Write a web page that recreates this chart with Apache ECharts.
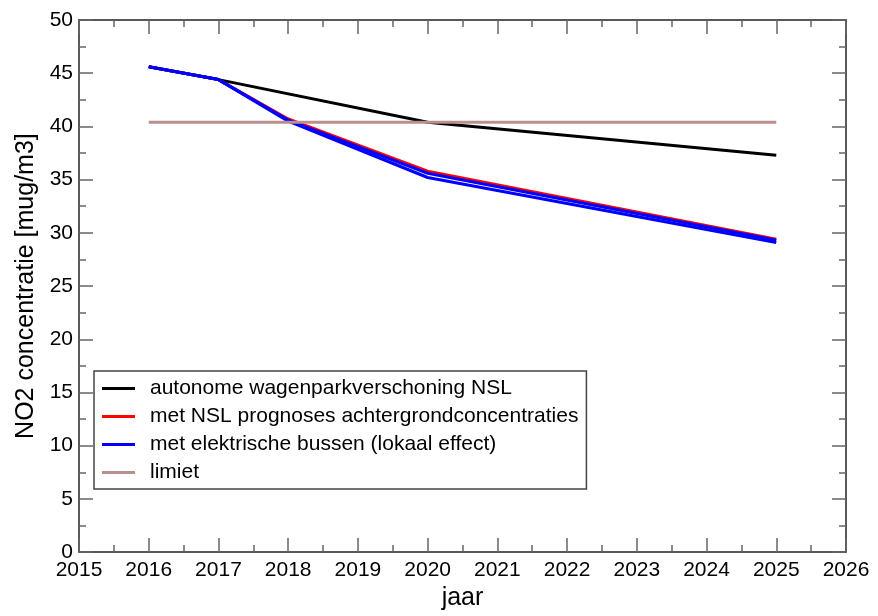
<!DOCTYPE html>
<html>
<head>
<meta charset="utf-8">
<script src="https://cdn.jsdelivr.net/npm/echarts@6/dist/echarts.min.js"></script>
<style>html,body{margin:0;padding:0;background:#fff}#c{width:878px;height:616px}</style>
</head>
<body>
<div id="c"></div>
<script>
const yearsBlack = [2016, 2017, 2020, 2025];
const valsBlack = [45.6, 44.4, 40.4, 37.3];
const yearsScen = [2016, 2017, 2018, 2020, 2025];
const valsRed = [45.6, 44.4, 40.7, 35.8, 29.4];
const valsBlueA = [45.6, 44.4, 40.6, 35.6, 29.3];
const valsBlueB = [45.6, 44.4, 40.5, 35.2, 29.1];
const yearsLimit = [2016, 2025];
const valsLimit = [40.4, 40.4];
const names = ['autonome wagenparkverschoning NSL', 'met NSL prognoses achtergrondconcentraties', 'met elektrische bussen (lokaal effect)', 'limiet'];

const pair = (xs, ys) => xs.map((x, i) => [x, ys[i]]);
const FONT = 'Liberation Sans';
const axisCommon = {
  type: 'value', splitLine: {show: false},
  axisLine: {show: true, onZero: false, lineStyle: {color: '#222', width: 1.5}},
  axisTick: {show: true, inside: true, length: 14, lineStyle: {color: '#666', width: 1.5}},
  minorTick: {show: true, splitNumber: 2, length: 7, lineStyle: {color: '#666', width: 1.5}},
  minorSplitLine: {show: false}
};
const chart = echarts.init(document.getElementById('c'), null, {renderer: 'canvas'});
const mk = (name, data, color) => ({
  type: 'line', name, data, symbol: 'none', showSymbol: false,
  lineStyle: {color, width: 3}, itemStyle: {color}, animation: false
});
chart.setOption({
  animation: false,
  textStyle: {fontFamily: FONT},
  grid: {left: 79, right: 32, top: 20, bottom: 61},
  xAxis: [
    Object.assign({}, axisCommon, {min: 2015, max: 2026, interval: 1, position: 'bottom',
      axisLabel: {color: '#000', fontSize: 21, fontFamily: FONT, margin: 8, formatter: v => String(v)},
      name: 'jaar', nameLocation: 'middle', nameGap: 31,
      nameTextStyle: {color: '#000', fontSize: 25, fontFamily: FONT}}),
    Object.assign({}, axisCommon, {min: 2015, max: 2026, interval: 1, position: 'top',
      axisLabel: {show: false}})
  ],
  yAxis: [
    Object.assign({}, axisCommon, {min: 0, max: 50, interval: 5, position: 'left',
      axisLabel: {color: '#000', fontSize: 21, fontFamily: FONT, margin: 6},
      name: 'NO2 concentratie [mug/m3]', nameLocation: 'middle', nameGap: 40,
      nameTextStyle: {color: '#000', fontSize: 25, fontFamily: FONT}}),
    Object.assign({}, axisCommon, {min: 0, max: 50, interval: 5, position: 'right',
      axisLabel: {show: false}})
  ],
  legend: {
    data: names.map(n => ({name: n, icon: 'rect'})), orient: 'vertical', left: 94, top: 371,
    padding: [7, 8, 6, 8], itemGap: 7, itemWidth: 33, itemHeight: 3,
    borderColor: '#444', borderWidth: 1.5, backgroundColor: '#fff',
    textStyle: {color: '#000', fontSize: 21, fontFamily: FONT, lineHeight: 21, padding: [0, 0, 0, 10]},
    selectedMode: false
  },
  series: [
    mk(names[0], pair(yearsBlack, valsBlack), '#000000'),
    mk(names[1], pair(yearsScen, valsRed), '#ff0000'),
    mk(names[2], pair(yearsScen, valsBlueA), '#0000ff'),
    mk(names[2], pair(yearsScen, valsBlueB), '#0000ff'),
    mk(names[3], pair(yearsLimit, valsLimit), '#bc8f8f')
  ]
});
</script>
</body>
</html>
